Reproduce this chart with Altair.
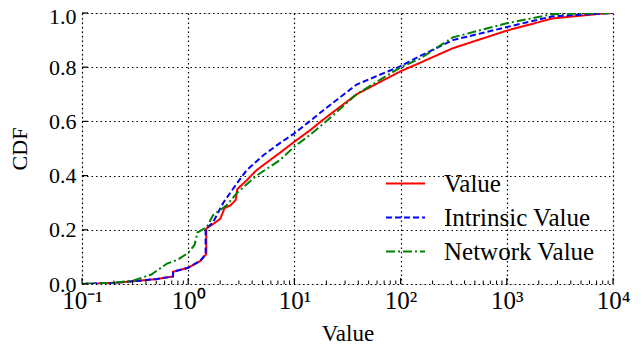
import altair as alt
import pandas as pd

# ---- data ----
value_x = [0.1, 0.2, 0.3, 0.5, 0.72, 0.72, 1.0, 1.3, 1.48, 1.48, 1.7, 2.0, 2.2, 2.5, 2.8, 2.9, 3.5, 4.4, 7.3, 10, 14, 18.6, 38.5, 100, 150, 310, 1000, 2700, 8000, 10000]
value_y = [0.0, 0.004, 0.01, 0.018, 0.028, 0.045, 0.06, 0.085, 0.11, 0.205, 0.22, 0.24, 0.28, 0.29, 0.31, 0.35, 0.38, 0.42, 0.484, 0.525, 0.567, 0.606, 0.70, 0.785, 0.815, 0.87, 0.935, 0.98, 0.998, 1.0]

intr_x = [0.1, 0.2, 0.3, 0.5, 0.72, 0.72, 1.0, 1.3, 1.46, 1.46, 1.7, 2.14, 2.86, 3.55, 5.1, 7.3, 10, 14, 18.6, 38.5, 100, 150, 310, 1000, 2700, 10000]
intr_y = [0.0, 0.004, 0.01, 0.018, 0.028, 0.045, 0.06, 0.085, 0.11, 0.205, 0.225, 0.30, 0.37, 0.42, 0.475, 0.52, 0.556, 0.601, 0.64, 0.736, 0.804, 0.84, 0.90, 0.948, 0.988, 1.0]

net_x = [0.1, 0.2, 0.3, 0.45, 0.63, 0.8, 1.0, 1.15, 1.22, 1.5, 1.72, 2.3, 2.86, 4.4, 7.3, 10, 14, 18.6, 38.5, 100, 150, 310, 1000, 2700, 10000]
net_y = [0.0, 0.005, 0.012, 0.035, 0.075, 0.09, 0.115, 0.145, 0.19, 0.21, 0.255, 0.29, 0.335, 0.40, 0.457, 0.507, 0.55, 0.59, 0.70, 0.80, 0.83, 0.91, 0.962, 0.996, 1.0]

series_names = ["Value", "Intrinsic Value", "Network Value"]
series_colors = ["#ff0000", "#0000ff", "#008000"]
series_dash = [[1, 0], [6, 3], [9, 3, 2, 3]]

major_x = [0.1, 1, 10, 100, 1000, 10000]
minor_x = [m * d for d in [0.1, 1, 10, 100, 1000] for m in range(2, 10)]
major_y = [0.0, 0.2, 0.4, 0.6, 0.8, 1.0]

FONT = "Liberation Serif"
W, H = 531, 271

rows = []
for name, xs, ys in [(series_names[0], value_x, value_y),
                     (series_names[1], intr_x, intr_y),
                     (series_names[2], net_x, net_y)]:
    for i, (a, b) in enumerate(zip(xs, ys)):
        rows.append({"series": name, "x": a, "y": b, "order": i})
df = pd.DataFrame(rows)

xscale = alt.Scale(type="log", domain=[0.1, 10000], nice=False)
yscale = alt.Scale(domain=[0, 1], nice=False)

label_expr = ("datum.value == 0.1 ? '10⁻¹' : datum.value == 1 ? '10⁰' : datum.value == 10 ? '10¹' : "
              "datum.value == 100 ? '10²' : datum.value == 1000 ? '10³' : '10⁴'")

lines = alt.Chart(df).mark_line(strokeWidth=2, clip=True).encode(
    x=alt.X("x:Q", scale=xscale,
            axis=alt.Axis(values=major_x, labelExpr=label_expr, title="Value",
                          grid=True, gridDash=[1.5, 3], gridColor="black", gridWidth=1.2, gridOpacity=1,
                          ticks=False, domain=False, labelPadding=4, labelFontSize=25,
                          titleFontSize=23, titleFontWeight="normal", titlePadding=9,
                          labelFont=FONT, titleFont=FONT, labelColor="black", titleColor="black",
                          labelFlush=False)),
    y=alt.Y("y:Q", scale=yscale,
            axis=alt.Axis(values=major_y, format=".1f", title="CDF",
                          grid=True, gridDash=[1.5, 3], gridColor="black", gridWidth=1.2, gridOpacity=1,
                          ticks=False, domain=False, labelPadding=6, labelFontSize=22,
                          labelOffset={"condition": {"test": "datum.value == 1", "value": 3}, "value": 0},
                          titleFontSize=22, titleFontWeight="normal", titlePadding=17,
                          labelFont=FONT, titleFont=FONT, labelColor="black", titleColor="black")),
    color=alt.Color("series:N", scale=alt.Scale(domain=series_names, range=series_colors),
                    legend=alt.Legend(title=None, orient="none", legendX=303, legendY=150,
                                      symbolType="stroke", symbolSize=1521, symbolStrokeWidth=2,
                                      labelFont=FONT, labelFontSize=25, labelColor="black",
                                      rowPadding=-1, labelOffset=18)),
    strokeDash=alt.StrokeDash("series:N", scale=alt.Scale(domain=series_names, range=series_dash),
                              legend=None),
    order="order:Q",
)

ticks_df = pd.DataFrame({"t": major_x})
minor_df = pd.DataFrame({"t": minor_x})
yticks_df = pd.DataFrame({"t": major_y})

xmaj = alt.Chart(ticks_df).mark_rule(color="black", strokeWidth=1.2).encode(
    x=alt.X("t:Q", scale=xscale), y=alt.value(H), y2=alt.value(H - 6))
xmin = alt.Chart(minor_df).mark_rule(color="black", strokeWidth=1).encode(
    x=alt.X("t:Q", scale=xscale), y=alt.value(H), y2=alt.value(H - 3.5))
ymaj = alt.Chart(yticks_df).mark_rule(color="black", strokeWidth=1.2).encode(
    y=alt.Y("t:Q", scale=yscale), x=alt.value(0), x2=alt.value(6))

chart = alt.layer(lines, xmaj, xmin, ymaj).properties(
    width=W, height=H,
    autosize=alt.AutoSizeParams(type="none"),
    padding={"left": 74, "top": 5, "right": 23, "bottom": 64},
).configure_view(stroke="black", strokeWidth=1.5).configure(background="white", font=FONT)

chart.save("out.html", embed_options={"renderer": "svg", "actions": False})
